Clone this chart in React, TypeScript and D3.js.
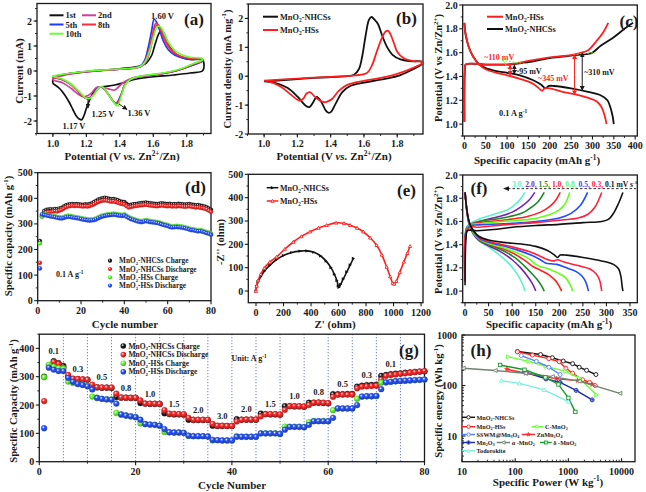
import React from 'react';
import * as d3 from 'd3';

type P = [number, number];

/* ====================== DATA ====================== */

// (a) CV curves, MnO2-NHCSs, cycles 1/2/5/8/10 : [V vs Zn2+/Zn, current mA]
const cvCycle1: P[] = [[1.0,-0.5],[1.003,-0.27],[1.05,-0.17],[1.1,-0.1],[1.2,-0.03],[1.3,0.03],[1.4,0.09],[1.48,0.15],[1.53,0.22],[1.56,0.33],[1.59,0.62],[1.61,1.05],[1.63,1.45],[1.645,1.61],[1.66,1.55],[1.68,1.25],[1.7,0.95],[1.73,0.7],[1.77,0.54],[1.82,0.46],[1.895,0.44],[1.896,0.02],[1.82,-0.08],[1.72,-0.16],[1.62,-0.22],[1.55,-0.27],[1.48,-0.35],[1.42,-0.47],[1.37,-0.56],[1.32,-0.61],[1.28,-0.64],[1.26,-0.7],[1.24,-0.88],[1.22,-1.15],[1.2,-1.5],[1.185,-1.8],[1.172,-1.95],[1.16,-1.93],[1.14,-1.8],[1.12,-1.55],[1.1,-1.28],[1.07,-0.95],[1.04,-0.7],[1.0,-0.5]];
const cvCycle2: P[] = [[1.0,-0.28],[1.05,-0.2],[1.1,-0.13],[1.2,-0.04],[1.3,0.02],[1.4,0.07],[1.48,0.12],[1.53,0.2],[1.56,0.4],[1.58,0.8],[1.6,1.4],[1.618,1.82],[1.635,1.75],[1.66,1.4],[1.69,1.0],[1.72,0.75],[1.77,0.56],[1.83,0.48],[1.895,0.46],[1.895,0.42],[1.82,0.2],[1.74,0.02],[1.65,-0.1],[1.56,-0.18],[1.48,-0.27],[1.43,-0.42],[1.39,-0.65],[1.37,-0.76],[1.345,-0.74],[1.31,-0.67],[1.28,-0.63],[1.26,-0.66],[1.235,-0.85],[1.21,-0.98],[1.185,-1.03],[1.15,-0.92],[1.11,-0.7],[1.06,-0.48],[1.0,-0.35],[1.0,-0.28]];
const cvCycle5: P[] = [[1.0,-0.22],[1.05,-0.15],[1.1,-0.1],[1.2,-0.02],[1.3,0.03],[1.4,0.07],[1.48,0.11],[1.52,0.18],[1.55,0.45],[1.57,0.95],[1.59,1.6],[1.605,2.07],[1.62,1.95],[1.64,1.6],[1.66,1.2],[1.69,0.85],[1.73,0.63],[1.79,0.5],[1.895,0.44],[1.895,0.4],[1.83,0.22],[1.76,0.05],[1.68,-0.08],[1.6,-0.16],[1.52,-0.23],[1.46,-0.35],[1.43,-0.55],[1.41,-0.9],[1.39,-1.2],[1.38,-1.29],[1.365,-1.25],[1.34,-1.02],[1.31,-0.75],[1.285,-0.64],[1.265,-0.72],[1.24,-0.95],[1.215,-1.08],[1.2,-1.1],[1.18,-1.02],[1.14,-0.75],[1.1,-0.5],[1.05,-0.33],[1.0,-0.25],[1.0,-0.22]];
const cvCycle8: P[] = [[1.0,-0.22],[1.1,-0.1],[1.2,-0.02],[1.3,0.03],[1.4,0.07],[1.48,0.11],[1.52,0.17],[1.55,0.38],[1.575,0.85],[1.595,1.45],[1.615,1.9],[1.63,1.85],[1.65,1.55],[1.67,1.2],[1.7,0.88],[1.74,0.66],[1.8,0.52],[1.895,0.46],[1.895,0.42],[1.83,0.24],[1.76,0.06],[1.68,-0.07],[1.6,-0.15],[1.52,-0.22],[1.46,-0.34],[1.43,-0.55],[1.41,-0.92],[1.395,-1.2],[1.385,-1.3],[1.37,-1.27],[1.345,-1.05],[1.315,-0.77],[1.29,-0.64],[1.27,-0.7],[1.245,-0.93],[1.22,-1.08],[1.205,-1.1],[1.185,-1.04],[1.15,-0.8],[1.1,-0.5],[1.05,-0.33],[1.0,-0.25],[1.0,-0.22]];
const cvCycle10: P[] = [[1.0,-0.2],[1.1,-0.09],[1.2,-0.01],[1.3,0.04],[1.4,0.08],[1.48,0.12],[1.52,0.18],[1.55,0.35],[1.58,0.85],[1.6,1.35],[1.625,1.78],[1.645,1.75],[1.665,1.5],[1.69,1.15],[1.72,0.88],[1.76,0.68],[1.82,0.55],[1.895,0.5],[1.895,0.45],[1.84,0.3],[1.77,0.1],[1.69,-0.04],[1.6,-0.13],[1.52,-0.21],[1.46,-0.35],[1.43,-0.58],[1.41,-0.98],[1.395,-1.3],[1.388,-1.4],[1.375,-1.35],[1.35,-1.12],[1.32,-0.82],[1.292,-0.62],[1.27,-0.7],[1.25,-0.9],[1.225,-1.08],[1.21,-1.12],[1.19,-1.05],[1.15,-0.78],[1.1,-0.48],[1.05,-0.3],[1.0,-0.22],[1.0,-0.2]];
const cvCycleNames = ['1st', '2nd', '5th', '8th', '10th'];

// (b) CV of the two electrodes : [V, mA mg-1]
const cvNHCSs: P[] = [[1.0,-0.18],[1.1,-0.14],[1.2,-0.1],[1.3,-0.06],[1.4,-0.03],[1.5,0.0],[1.54,0.05],[1.57,0.25],[1.59,0.7],[1.61,1.4],[1.63,1.95],[1.645,2.05],[1.665,1.95],[1.685,1.8],[1.71,1.4],[1.74,1.0],[1.77,0.75],[1.82,0.58],[1.88,0.52],[1.95,0.5],[1.95,0.43],[1.88,0.2],[1.8,0.0],[1.7,-0.12],[1.6,-0.22],[1.52,-0.33],[1.47,-0.55],[1.43,-0.95],[1.405,-1.22],[1.39,-1.27],[1.37,-1.18],[1.345,-0.9],[1.316,-0.72],[1.295,-0.9],[1.272,-1.07],[1.25,-1.02],[1.2,-0.7],[1.14,-0.4],[1.07,-0.24],[1.0,-0.18]];
const cvHSs: P[] = [[1.0,-0.15],[1.2,-0.08],[1.4,-0.02],[1.55,0.03],[1.62,0.12],[1.65,0.4],[1.68,0.9],[1.71,1.35],[1.73,1.55],[1.745,1.57],[1.76,1.45],[1.78,1.15],[1.8,0.85],[1.84,0.62],[1.9,0.52],[1.95,0.5],[1.95,0.45],[1.9,0.3],[1.8,0.08],[1.7,-0.06],[1.6,-0.16],[1.5,-0.3],[1.45,-0.5],[1.41,-0.78],[1.38,-0.88],[1.36,-0.9],[1.33,-0.82],[1.3,-0.68],[1.275,-0.55],[1.255,-0.6],[1.235,-0.78],[1.21,-0.84],[1.17,-0.68],[1.11,-0.4],[1.05,-0.22],[1.0,-0.15]];

// (c) GCD at 0.1 A g-1 : [mAh g-1, V]
const gcdHSsDischarge: P[] = [[0,1.85],[3,1.75],[10,1.65],[20,1.57],[35,1.5],[50,1.46],[75,1.43],[100,1.41],[130,1.38],[160,1.34],[175,1.3],[182,1.28],[188,1.3],[200,1.3],[230,1.27],[260,1.25],[290,1.22],[310,1.19],[320,1.15],[326,1.1],[330,1.05],[333,1.0]];
const gcdNHCSsDischarge: P[] = [[0,1.85],[3,1.75],[10,1.65],[20,1.57],[35,1.5],[50,1.47],[75,1.445],[100,1.43],[130,1.41],[160,1.37],[180,1.33],[190,1.3],[198,1.32],[210,1.32],[250,1.3],[290,1.27],[320,1.24],[335,1.2],[342,1.14],[347,1.07],[350,1.0]];
const gcdHSsCharge: P[] = [[0,1.02],[1,1.45],[3,1.5],[50,1.5],[100,1.5],[120,1.51],[150,1.53],[200,1.56],[250,1.58],[275,1.6],[290,1.62],[310,1.7],[325,1.77],[337,1.85]];
const gcdNHCSsCharge: P[] = [[0,1.02],[1,1.45],[3,1.5],[50,1.5],[100,1.5],[120,1.505],[150,1.52],[200,1.555],[250,1.575],[290,1.59],[300,1.6],[320,1.66],[350,1.73],[375,1.8],[395,1.85]];

// (d) cycling at 0.1 A g-1 (cycles 1..80), mAh g-1
const cycNHCSsCharge = [233,330,350,355,356,357,356,358,357,360,362,368,372,375,376,377,376,377,376,375,374,376,375,377,380,385,390,395,398,400,402,400,398,396,397,395,392,388,386,385,378,372,374,376,377,378,380,381,382,383,381,380,379,378,377,378,380,379,378,377,378,376,377,376,378,377,376,375,376,377,375,374,372,373,371,370,368,365,360,355];
const cycNHCSsDischarge = [148,335,342,345,346,347,348,350,349,352,355,360,365,368,370,371,370,371,370,369,368,369,368,370,373,377,382,386,389,391,392,391,389,387,388,386,383,380,378,376,370,364,366,368,370,371,372,373,374,375,373,372,371,370,369,370,372,371,370,369,370,368,369,368,370,369,368,367,368,369,367,366,364,365,363,362,360,357,352,347];
const cycHSsCharge = [224,328,338,336,334,332,333,330,328,326,325,327,330,332,331,329,328,326,325,323,321,320,318,317,318,319,322,326,330,333,335,337,338,339,340,339,337,336,335,337,332,327,323,320,317,314,312,311,313,315,313,311,310,309,308,306,303,300,298,296,292,290,291,292,291,290,289,287,285,282,280,279,277,275,276,274,271,268,266,262];
const cycHSsDischarge = [126,337,335,333,331,329,328,326,324,322,321,323,326,328,327,325,324,322,321,319,317,316,314,313,314,315,318,322,326,329,331,333,334,335,336,335,333,332,331,333,328,323,319,316,313,310,308,307,309,311,309,307,306,305,304,302,299,296,294,292,288,286,287,288,287,286,285,283,281,278,276,275,273,271,272,270,267,264,262,258];
const cycLegend = ['MnO2-NHCSs Charge', 'MnO2-NHCSs Discharge', 'MnO2-HSs Charge', 'MnO2-HSs Discharge'];

// (e) Nyquist : [Z' ohm, -Z'' ohm]
const eisNHCSs: P[] = [[0,0],[5,20],[15,40],[35,62],[60,85],[100,110],[150,135],[200,152],[260,165],[320,171],[370,172],[420,166],[470,150],[510,128],[545,100],[570,72],[588,45],[598,22],[603,16],[615,28],[635,52],[660,82],[685,112],[708,140]];
const eisHSs: P[] = [[0,0],[5,22],[15,45],[35,72],[60,98],[100,124],[150,146],[210,180],[271,210],[330,234],[393,254],[455,270],[514,282],[582,292],[640,290],[684,282],[735,270],[780,254],[830,228],[877,196],[915,155],[950,103],[975,62],[994,34],[1005,30],[1020,42],[1045,80],[1075,125],[1100,162],[1120,192]];

// (f) GCD of MnO2-NHCSs at different rates : [mAh g-1, V]
const rateNames = ['3.0', '2.0', '1.5', '1.0', '0.8', '0.5', '0.3', '0.1'];
const rateCharge: P[][] = [
  [[0,1.2],[3,1.55],[10,1.58],[30,1.62],[60,1.66],[90,1.7],[105,1.74],[117,1.79],[127,1.85]],
  [[0,1.17],[3,1.54],[10,1.57],[30,1.6],[70,1.64],[100,1.68],[120,1.73],[135,1.78],[148,1.85]],
  [[0,1.15],[3,1.53],[10,1.57],[30,1.6],[80,1.63],[120,1.67],[140,1.72],[155,1.77],[168,1.85]],
  [[0,1.13],[3,1.52],[10,1.57],[30,1.59],[80,1.61],[130,1.64],[160,1.68],[180,1.73],[192,1.78],[202,1.85]],
  [[0,1.12],[3,1.52],[10,1.57],[30,1.58],[80,1.6],[140,1.62],[180,1.66],[200,1.7],[212,1.75],[222,1.85]],
  [[0,1.1],[2,1.5],[10,1.56],[30,1.57],[80,1.58],[150,1.6],[200,1.63],[225,1.67],[245,1.74],[260,1.85]],
  [[0,1.08],[2,1.5],[10,1.55],[30,1.55],[80,1.57],[150,1.59],[200,1.61],[240,1.63],[260,1.66],[275,1.72],[290,1.85]],
  [[0,1.05],[2,1.45],[5,1.52],[25,1.52],[60,1.53],[100,1.55],[150,1.565],[200,1.575],[250,1.59],[290,1.6],[305,1.62],[315,1.67],[325,1.75],[335,1.85]],
];
const rateDischarge: P[][] = [
  [[0,1.85],[2,1.76],[5,1.65],[10,1.56],[18,1.49],[30,1.43],[50,1.38],[70,1.32],[90,1.25],[105,1.18],[116,1.11],[123,1.05],[127,1.0]],
  [[0,1.85],[2,1.76],[5,1.65],[10,1.56],[18,1.49],[30,1.435],[50,1.39],[75,1.34],[100,1.27],[118,1.2],[132,1.13],[142,1.07],[148,1.02],[150,1.0]],
  [[0,1.85],[2,1.76],[5,1.65],[10,1.56],[18,1.5],[30,1.44],[50,1.4],[80,1.35],[105,1.29],[125,1.22],[142,1.15],[155,1.09],[163,1.04],[168,1.0]],
  [[0,1.85],[2,1.76],[5,1.66],[10,1.57],[18,1.5],[30,1.445],[50,1.405],[80,1.365],[105,1.32],[128,1.26],[145,1.21],[160,1.18],[178,1.14],[192,1.09],[200,1.04],[205,1.0]],
  [[0,1.85],[2,1.76],[5,1.66],[10,1.57],[18,1.5],[30,1.45],[50,1.41],[80,1.375],[110,1.33],[135,1.28],[150,1.23],[160,1.21],[175,1.195],[195,1.16],[212,1.12],[221,1.07],[226,1.03],[228,1.0]],
  [[0,1.85],[2,1.76],[5,1.66],[10,1.57],[18,1.51],[30,1.455],[50,1.42],[80,1.39],[110,1.355],[140,1.31],[160,1.27],[172,1.24],[182,1.235],[195,1.23],[215,1.2],[235,1.17],[248,1.13],[256,1.08],[260,1.03],[262,1.0]],
  [[0,1.85],[2,1.76],[5,1.67],[10,1.58],[18,1.52],[30,1.46],[50,1.43],[80,1.4],[110,1.37],[140,1.335],[165,1.29],[180,1.265],[188,1.26],[196,1.27],[210,1.25],[240,1.22],[265,1.19],[278,1.15],[285,1.1],[288,1.05],[290,1.0]],
  [[0,1.85],[2,1.76],[5,1.67],[10,1.58],[18,1.52],[30,1.47],[50,1.44],[80,1.42],[120,1.405],[150,1.385],[175,1.35],[190,1.31],[196,1.29],[202,1.31],[215,1.31],[250,1.29],[290,1.26],[315,1.23],[326,1.19],[331,1.12],[333,1.05],[335,1.0]],
];

// (g) rate capability, cycles 1..80 (mAh g-1)
const rcNHCSsCharge = [300,340,355,348,338,300,292,291,290,289,265,262,261,261,260,228,226,226,225,225,207,205,204,204,204,171,168,167,167,166,148,147,147,147,147,127,126,126,126,126,150,148,148,148,148,170,168,167,167,166,196,196,195,195,194,208,208,208,207,206,238,238,238,239,239,265,268,270,271,272,303,306,309,311,312,314,315,317,318,319];
const rcNHCSsDischarge = [214,335,352,345,332,306,293,292,291,290,272,263,262,262,262,240,227,226,226,226,216,205,205,205,204,182,170,169,168,168,155,148,148,148,148,133,127,127,126,126,142,148,149,149,149,160,168,168,168,167,183,196,196,196,195,200,208,209,208,207,229,236,237,237,237,259,265,266,267,268,290,303,306,308,310,312,314,316,318,320];
const rcHSsCharge = [298,342,335,330,328,283,278,275,272,268,230,226,222,220,220,172,166,163,160,157,135,133,131,130,127,105,104,103,103,102,91,90,90,90,89,75,76,75,75,75,90,88,88,88,88,100,100,100,100,98,124,123,123,123,122,140,143,143,143,143,182,188,188,188,188,222,230,231,231,232,279,280,282,284,285,286,287,288,289,290];
const rcHSsDischarge = [118,332,325,320,320,296,282,274,271,266,255,225,222,220,219,205,167,163,160,157,148,133,131,130,127,115,104,103,103,102,92,90,90,90,89,77,76,75,75,75,88,88,88,88,88,100,100,100,100,98,113,123,123,123,122,130,143,143,143,143,155,188,188,188,188,200,230,231,231,232,256,280,282,284,285,286,287,288,289,290];
const rcSteps = ['0.1','0.3','0.5','0.8','1.0','1.5','2.0','3.0','2.0','1.5','1.0','0.8','0.5','0.3','0.1'];

// (h) Ragone : [W kg-1, Wh kg-1]
const ragNHCSs: P[] = [[110,470],[300,410],[500,355],[800,305],[1200,270],[1600,230],[2200,200],[3300,165]];
const ragHSs: P[] = [[110,465],[210,400],[430,340],[670,295],[900,220],[1200,175],[1850,130],[2500,115],[3200,100]];
const ragCMnO2: P[] = [[75,370],[180,300],[380,240],[900,190],[1600,140],[3400,65]];
const ragSSWM: P[] = [[130,390],[250,300],[430,230],[700,165]];
const ragZnMn2O4: P[] = [[70,210],[160,175],[600,135],[1500,125],[2800,105]];
const ragMn2O3: P[] = [[150,185],[380,135],[700,115],[1400,80],[2800,52]];
const ragAlpha: P[] = [[10.5,220],[42,198],[155,175],[500,150],[1600,122],[9300,70]];
const ragDelta: P[] = [[52,255],[150,205],[370,145],[650,105],[1000,57],[1350,30]];
const ragTodorokite: P[] = [[55,125],[120,110],[350,82],[1000,48]];

/* ====================== HELPERS ====================== */
const FONT = "'Liberation Serif', 'Times New Roman', serif";
const INK = '#1a1a1a';

type Seg = string | { t: string; sup?: boolean; sub?: boolean; it?: boolean; fill?: string };
function Rich(props: { x: number; y: number; fs: number; segs: Seg[]; anchor?: string; rot?: boolean; fill?: string }) {
  const { x, y, fs, segs, anchor = 'start', rot = false, fill = INK } = props;
  let cur = 0;
  const kids = segs.map((s, i) => {
    const o = typeof s === 'string' ? { t: s } : s;
    const target = o.sup ? -fs * 0.4 : o.sub ? fs * 0.25 : 0;
    const dy = target - cur;
    cur = target;
    return (
      <tspan key={i} dy={dy !== 0 ? dy : undefined} fontSize={o.sup || o.sub ? fs * 0.66 : fs}
        fontStyle={o.it ? 'italic' : undefined} fill={o.fill}>{o.t}</tspan>
    );
  });
  return (
    <text x={x} y={y} fontSize={fs} fontFamily={FONT} fontWeight="bold" fill={fill} textAnchor={anchor as any}
      transform={rot ? `rotate(-90 ${x} ${y})` : undefined}>{kids}</text>
  );
}

const mno2 = (rest: string): Seg[] => ['MnO', { t: '2', sub: true }, rest];

function Frame(props: {
  x: any; y: any; xTicks: number[]; yTicks: number[];
  xFmt?: (v: number) => string; yFmt?: (v: number) => string;
  xMinor?: number[]; yMinor?: number[]; fs?: number; xOff?: number; inward?: boolean;
}) {
  const { x, y, xTicks, yTicks, xFmt = (v) => String(v), yFmt = (v) => String(v), xMinor = [], yMinor = [], fs = 10, xOff = 13, inward = false } = props;
  const [x0, x1] = x.range();
  const [yb, yt] = y.range();
  const s = inward ? -1 : 1;
  return (
    <g>
      {xMinor.map((v, i) => <line key={'xm' + i} x1={x(v)} x2={x(v)} y1={yb} y2={yb + 2 * s} stroke={INK} strokeWidth={0.9} />)}
      {yMinor.map((v, i) => <line key={'ym' + i} x1={x0 - 2 * s} x2={x0} y1={y(v)} y2={y(v)} stroke={INK} strokeWidth={0.9} />)}
      {xTicks.map((v, i) => (
        <g key={'xt' + i}>
          <line x1={x(v)} x2={x(v)} y1={yb} y2={yb + 3.5 * s} stroke={INK} strokeWidth={1.1} />
          <text x={x(v)} y={yb + xOff} textAnchor="middle" fontSize={fs} fontWeight="bold" fontFamily={FONT} fill={INK}>{xFmt(v)}</text>
        </g>
      ))}
      {yTicks.map((v, i) => (
        <g key={'yt' + i}>
          <line x1={x0 - 3.5 * s} x2={x0} y1={y(v)} y2={y(v)} stroke={INK} strokeWidth={1.1} />
          <text x={x0 - 5} y={y(v)} dy="0.35em" textAnchor="end" fontSize={fs} fontWeight="bold" fontFamily={FONT} fill={INK}>{yFmt(v)}</text>
        </g>
      ))}
      <rect x={x0} y={yt} width={x1 - x0} height={yb - yt} fill="none" stroke={INK} strokeWidth={1.3} />
    </g>
  );
}

const range = (a: number, b: number, s: number) => d3.range(a, b + s / 2, s);
const logMinor = (lo: number, hi: number) => {
  const out: number[] = [];
  for (let e = Math.floor(Math.log10(lo)); e <= Math.ceil(Math.log10(hi)); e++)
    for (let m = 2; m < 10; m++) { const v = m * Math.pow(10, e); if (v > lo && v < hi) out.push(v); }
  return out;
};

function mkLine(xs: any, ys: any, curve: any = d3.curveCatmullRom.alpha(0.5)) {
  return d3.line<P>().x((d) => xs(d[0])).y((d) => ys(d[1])).curve(curve);
}

function Marker(props: { kind: string; cx: number; cy: number; color: string; r?: number }) {
  const { kind, cx, cy, color, r = 2.2 } = props;
  const sw = 0.9;
  if (kind === 'circle') return <circle cx={cx} cy={cy} r={r} fill="white" stroke={color} strokeWidth={sw} />;
  if (kind === 'triR') return <path d={`M${cx - r},${cy - r}L${cx + r},${cy}L${cx - r},${cy + r}Z`} fill="white" stroke={color} strokeWidth={sw} />;
  if (kind === 'triL') return <path d={`M${cx + r},${cy - r}L${cx - r},${cy}L${cx + r},${cy + r}Z`} fill="white" stroke={color} strokeWidth={sw} />;
  if (kind === 'triU') return <path d={`M${cx},${cy - r}L${cx + r},${cy + r * 0.8}L${cx - r},${cy + r * 0.8}Z`} fill="white" stroke={color} strokeWidth={sw} />;
  if (kind === 'square') return <rect x={cx - r * 0.85} y={cy - r * 0.85} width={r * 1.7} height={r * 1.7} fill="white" stroke={color} strokeWidth={sw} />;
  if (kind === 'star') {
    const pts = d3.range(10).map((i) => {
      const a = -Math.PI / 2 + (i * Math.PI) / 5;
      const rr = i % 2 === 0 ? r * 1.3 : r * 0.55;
      return `${cx + rr * Math.cos(a)},${cy + rr * Math.sin(a)}`;
    });
    return <polygon points={pts.join(' ')} fill={color} stroke={color} strokeWidth={0.5} />;
  }
  if (kind === 'cross') return (
    <g>
      <circle cx={cx} cy={cy} r={r} fill="white" stroke={color} strokeWidth={sw} />
      <path d={`M${cx - r},${cy}L${cx + r},${cy}M${cx},${cy - r}L${cx},${cy + r}`} stroke={color} strokeWidth={sw} />
    </g>
  );
  return <circle cx={cx} cy={cy} r={r} fill={color} />;
}

/* ====================== APP ====================== */
export default function App() {
  // ---- scales
  const ax = d3.scaleLinear().domain([0.905, 1.945]).range([37, 211]);
  const ay = d3.scaleLinear().domain([-2.5, 2.7]).range([133.5, 3.5]);
  const bx = d3.scaleLinear().domain([0.905, 1.955]).range([248.3, 423]);
  const by = d3.scaleLinear().domain([-2, 2.5]).range([134, 4]);
  const cx = d3.scaleLinear().domain([-4, 405]).range([462.7, 637.3]);
  const cy = d3.scaleLinear().domain([0.9, 2.0]).range([136, 5]);
  const dx = d3.scaleLinear().domain([0, 80]).range([37.7, 211]);
  const dy = d3.scaleLinear().domain([0, 500]).range([300.7, 172.7]);
  const ex = d3.scaleLinear().domain([-56, 1214]).range([248.3, 423]);
  const ey = d3.scaleLinear().domain([-50, 500]).range([302.7, 174.3]);
  const fx = d3.scaleLinear().domain([-5, 365.5]).range([462.7, 637.3]);
  const fy = d3.scaleLinear().domain([0.9, 2.0]).range([302.7, 175]);
  const gx = d3.scaleLinear().domain([0, 80]).range([39.3, 424.5]);
  const gy = d3.scaleLinear().domain([0, 450]).range([461.7, 334.2]);
  const hx = d3.scaleLog().domain([10, 17900]).range([462, 635]);
  const hy = d3.scaleLog().domain([3.1, 1000]).range([461.7, 335]);

  const cvColors = ['#111111', '#d0409a', '#2038ff', '#ff2a3a', '#66ff33'];
  const cvSets = [cvCycle1, cvCycle2, cvCycle5, cvCycle8, cvCycle10];
  const RED = '#ff1f1f';
  const rateColors = ['#5cf0cc', '#7a22b0', '#168a28', '#ff2020', '#66ff1a', '#1f4cff', '#ff2040', '#111111'];
  const cycColors = ['#1a1a1a', '#ff2b2b', '#66ff33', '#2b55ff'];
  const cycSets = [cycNHCSsCharge, cycNHCSsDischarge, cycHSsCharge, cycHSsDischarge];
  const rcSets = [rcNHCSsCharge, rcNHCSsDischarge, rcHSsCharge, rcHSsDischarge];
  const fmt1 = d3.format('.1f');

  const ragSeries = [
    { data: ragNHCSs, color: '#111111', kind: 'circle', name: mno2('-NHCSs') },
    { data: ragHSs, color: '#ff1f1f', kind: 'circle', name: mno2('-HSs') },
    { data: ragCMnO2, color: '#66ff33', kind: 'triR', name: ['C-', ...mno2('')] as Seg[] },
    { data: ragSSWM, color: '#4f7fff', kind: 'circle', name: ['SSWM@Mn', { t: '3', sub: true }, 'O', { t: '4', sub: true }] as Seg[] },
    { data: ragZnMn2O4, color: '#ff2a2a', kind: 'star', name: ['ZnMn', { t: '2', sub: true }, 'O', { t: '4', sub: true }] as Seg[] },
    { data: ragMn2O3, color: '#1a2aa8', kind: 'cross', name: ['Mn', { t: '2', sub: true }, 'O', { t: '3', sub: true }] as Seg[] },
    { data: ragAlpha, color: '#6f806f', kind: 'triL', name: ['α -', ...mno2('')] as Seg[] },
    { data: ragDelta, color: '#169a2a', kind: 'square', name: ['δ -', ...mno2('')] as Seg[] },
    { data: ragTodorokite, color: '#7aeedd', kind: 'triU', name: ['Todorokite'] as Seg[] },
  ];
  // legend layout for (h): [lineX0, lineX1, textX, rowY]
  const ragLegendPos: number[][] = [
    [462, 475, 476.5, 417.3], [462, 475, 476.5, 426.7], [531.7, 543.3, 545, 426.7],
    [462, 475, 476.5, 434.5], [521.7, 535, 536.7, 434.5], [462, 475, 476.5, 442.5],
    [496.7, 510, 511.7, 442.5], [540, 551.7, 553.3, 442.5], [462, 475, 476.5, 450.7],
  ];

  const sphere = (i: number) => `url(#sph${i})`;

  return (
    <svg width={646} height={492} viewBox="0 0 646 492" style={{ position: 'absolute', left: 0, top: 0, background: '#fff' }}
      xmlns="http://www.w3.org/2000/svg">
      <defs>
        <clipPath id="pC"><rect x={462.7} y={5} width={174.6} height={131} /></clipPath>
        <clipPath id="pF"><rect x={462.7} y={175} width={174.6} height={127.7} /></clipPath>
        {cycColors.map((c, i) => (
          <radialGradient key={i} id={`sph${i}`} cx="0.38" cy="0.35" r="0.7">
            <stop offset="0" stopColor="#ffffff" stopOpacity={0.9} />
            <stop offset="0.35" stopColor={c} />
            <stop offset="1" stopColor={d3.color(c)!.darker(1.2).formatHex()} />
          </radialGradient>
        ))}
        <marker id="arK" viewBox="0 0 10 10" refX="9" refY="5" markerWidth="5" markerHeight="5" orient="auto-start-reverse">
          <path d="M0,0L10,5L0,10Z" fill={INK} />
        </marker>
        <marker id="arR" viewBox="0 0 10 10" refX="9" refY="5" markerWidth="5" markerHeight="5" orient="auto-start-reverse">
          <path d="M0,0L10,5L0,10Z" fill={RED} />
        </marker>
      </defs>

      {/* ================= (a) ================= */}
      <g>
        <Frame x={ax} y={ay} xTicks={range(1.0, 1.8, 0.2)} yTicks={[-2, -1, 0, 1, 2]} xFmt={fmt1}
          xMinor={range(0.9, 1.9, 0.1)} yMinor={range(-2.5, 2.5, 0.5)} />
        {cvSets.map((s, i) => (
          <path key={i} d={mkLine(ax, ay)(s)!} fill="none" stroke={cvColors[i]} strokeWidth={1.7} />
        ))}
        {cvCycleNames.map((n, i) => {
          const col = i === 1 || i === 3 ? 1 : 0;
          const row = i === 0 || i === 1 ? 0 : i === 4 ? 2 : 1;
          const lx = col === 0 ? 49.5 : 82;
          const ly = 15.3 + row * 9.2;
          return (
            <g key={n}>
              <line x1={lx} x2={lx + 14} y1={ly} y2={ly} stroke={cvColors[i]} strokeWidth={2} />
              <text x={lx + 16} y={ly + 3} fontSize={8.5} fontWeight="bold" fontFamily={FONT} fill={INK}>{n}</text>
            </g>
          );
        })}
        <text x={162.5} y={18.5} fontSize={8.5} fontWeight="bold" fontFamily={FONT} textAnchor="middle" fill={INK}>1.60 V</text>
        <text x={74} y={128.5} fontSize={8.5} fontWeight="bold" fontFamily={FONT} textAnchor="middle" fill={INK}>1.17 V</text>
        <text x={103} y={116.5} fontSize={8.5} fontWeight="bold" fontFamily={FONT} textAnchor="middle" fill={INK}>1.25 V</text>
        <text x={139} y={115.5} fontSize={8.5} fontWeight="bold" fontFamily={FONT} textAnchor="middle" fill={INK}>1.36 V</text>
        <line x1={88} y1={99} x2={88} y2={108} stroke={INK} strokeWidth={1} markerEnd="url(#arK)" />
        <line x1={119} y1={104} x2={127} y2={109.5} stroke={INK} strokeWidth={1} markerEnd="url(#arK)" />
        <text x={194} y={25} fontSize={17} fontWeight="bold" fontFamily={FONT} textAnchor="middle" fill={INK}>(a)</text>
        <Rich x={122} y={160} fs={11} anchor="middle" segs={['Potential (V ', { t: 'vs.', it: true }, ' Zn', { t: '2+', sup: true }, '/Zn)']} />
        <Rich x={23} y={71} fs={11} anchor="middle" rot segs={['Current (mA)']} />
      </g>

      {/* ================= (b) ================= */}
      <g>
        <Frame x={bx} y={by} xTicks={range(1.0, 1.8, 0.2)} yTicks={[-2, -1, 0, 1, 2]} xFmt={fmt1}
          xMinor={range(0.9, 1.9, 0.1)} yMinor={range(-1.5, 2.5, 0.5)} />
        <path d={mkLine(bx, by)(cvNHCSs)!} fill="none" stroke="#111" strokeWidth={1.8} />
        <path d={mkLine(bx, by)(cvHSs)!} fill="none" stroke={RED} strokeWidth={1.8} />
        <line x1={263} x2={278} y1={16.7} y2={16.7} stroke="#111" strokeWidth={2} />
        <Rich x={280} y={19.5} fs={8.3} segs={mno2('-NHCSs')} />
        <line x1={263} x2={278} y1={30} y2={30} stroke={RED} strokeWidth={2} />
        <Rich x={280} y={32.8} fs={8.3} segs={mno2('-HSs')} />
        <text x={406.5} y={24} fontSize={17} fontWeight="bold" fontFamily={FONT} textAnchor="middle" fill={INK}>(b)</text>
        <Rich x={334} y={160} fs={11} anchor="middle" segs={['Potential (V ', { t: 'vs.', it: true }, ' Zn', { t: '2+', sup: true }, '/Zn)']} />
        <Rich x={230.5} y={69} fs={10.5} anchor="middle" rot segs={['Current density (mA mg', { t: '-1', sup: true }, ')']} />
      </g>

      {/* ================= (c) ================= */}
      <g>
        <Frame x={cx} y={cy} xTicks={range(0, 400, 50)} yTicks={range(1.0, 2.0, 0.2)} yFmt={fmt1}
          xMinor={range(25, 375, 50)} yMinor={range(0.9, 1.9, 0.2)} />
        <g clipPath="url(#pC)">
          <path d={mkLine(cx, cy)(gcdNHCSsDischarge)!} fill="none" stroke="#111" strokeWidth={1.8} />
          <path d={mkLine(cx, cy)(gcdNHCSsCharge)!} fill="none" stroke="#111" strokeWidth={1.8} />
          <path d={mkLine(cx, cy)(gcdHSsDischarge)!} fill="none" stroke={RED} strokeWidth={1.8} />
          <path d={mkLine(cx, cy)(gcdHSsCharge)!} fill="none" stroke={RED} strokeWidth={1.8} />
        </g>
        <line x1={cx(88)} y1={cy(1.535)} x2={cx(150)} y2={cy(1.505)} stroke="#66ff33" strokeWidth={1} strokeDasharray="2,1.5" />
        <line x1={cx(92)} y1={cy(1.53)} x2={cx(103)} y2={cy(1.46)} stroke="#66ff33" strokeWidth={1} strokeDasharray="2,1.5" />
        <line x1={cx(255)} y1={cy(1.585)} x2={cx(305)} y2={cy(1.6)} stroke="#66ff33" strokeWidth={1} strokeDasharray="2,1.5" />
        <line x1={cx(107)} y1={cy(1.41)} x2={cx(107)} y2={cy(1.497)} stroke={RED} strokeWidth={1} markerStart="url(#arR)" markerEnd="url(#arR)" />
        <line x1={cx(117)} y1={cy(1.42)} x2={cx(117)} y2={cy(1.497)} stroke={INK} strokeWidth={1} markerStart="url(#arK)" markerEnd="url(#arK)" />
        <line x1={cx(258)} y1={cy(1.245)} x2={cx(258)} y2={cy(1.585)} stroke={RED} strokeWidth={1} markerStart="url(#arR)" markerEnd="url(#arR)" />
        <line x1={cx(276)} y1={cy(1.282)} x2={cx(276)} y2={cy(1.597)} stroke={INK} strokeWidth={1} markerStart="url(#arK)" markerEnd="url(#arK)" />
        <text x={484} y={60} fontSize={8} fontWeight="bold" fontFamily={FONT} fill={RED}>~110 mV</text>
        <text x={515} y={73.5} fontSize={8} fontWeight="bold" fontFamily={FONT} fill={INK}>~95 mV</text>
        <text x={538} y={80.5} fontSize={8} fontWeight="bold" fontFamily={FONT} fill={RED}>~345 mV</text>
        <text x={584} y={75} fontSize={8} fontWeight="bold" fontFamily={FONT} fill={INK}>~310 mV</text>
        <Rich x={499} y={116} fs={8.3} segs={['0.1 A g', { t: '-1', sup: true }]} />
        <line x1={487} x2={503} y1={16.7} y2={16.7} stroke={RED} strokeWidth={2} />
        <Rich x={505} y={19.5} fs={8.3} segs={mno2('-HSs')} />
        <line x1={487} x2={503} y1={29} y2={29} stroke="#111" strokeWidth={2} />
        <Rich x={505} y={31.8} fs={8.3} segs={mno2('-NHCSs')} />
        <text x={629} y={27} fontSize={17} fontWeight="bold" fontFamily={FONT} textAnchor="middle" fill={INK}>(c)</text>
        <Rich x={537} y={164} fs={11} anchor="middle" segs={['Specific capacity (mAh g', { t: '-1', sup: true }, ')']} />
        <Rich x={442} y={68} fs={10.5} anchor="middle" rot segs={['Potential (V vs Zn/Zn', { t: '2+', sup: true }, ')']} />
      </g>

      {/* ================= (d) ================= */}
      <g>
        <Frame x={dx} y={dy} xTicks={[0, 20, 40, 60, 80]} yTicks={range(0, 500, 100)}
          xMinor={[10, 30, 50, 70]} yMinor={range(50, 450, 100)} />
        {cycSets.map((s, si) => (
          <g key={si}>
            {s.map((v, i) => <circle key={i} cx={dx(i + 1)} cy={dy(v)} r={2.1} fill={sphere(si)} stroke={d3.color(cycColors[si])!.darker(0.8).formatHex()} strokeWidth={0.3} />)}
          </g>
        ))}
        {cycLegend.map((n, i) => (
          <g key={n}>
            <circle cx={110} cy={260.7 + i * 8.3} r={2.1} fill={sphere(i)} />
            <Rich x={119} y={263.3 + i * 8.3} fs={7.3} segs={['MnO', { t: '2', sub: true }, n.slice(4)]} />
          </g>
        ))}
        <Rich x={56} y={277} fs={8} segs={['0.1 A g', { t: '-1', sup: true }]} />
        <text x={195.5} y={193} fontSize={17} fontWeight="bold" fontFamily={FONT} textAnchor="middle" fill={INK}>(d)</text>
        <Rich x={125} y={328} fs={11} anchor="middle" segs={['Cycle number']} />
        <Rich x={12} y={236} fs={10.5} anchor="middle" rot segs={['Specific capacity (mAh g', { t: '-1', sup: true }, ')']} />
      </g>

      {/* ================= (e) ================= */}
      <g>
        <Frame x={ex} y={ey} xTicks={range(0, 1200, 200)} yTicks={range(0, 500, 100)}
          xMinor={range(100, 1100, 200)} yMinor={range(50, 450, 100)} />
        <path d={mkLine(ex, ey)(eisNHCSs)!} fill="none" stroke="#111" strokeWidth={1.6} />
        {eisNHCSs.map((p, i) => <path key={i} d={`M${ex(p[0]) - 1.6},${ey(p[1]) - 1.6}L${ex(p[0]) + 1.8},${ey(p[1])}L${ex(p[0]) - 1.6},${ey(p[1]) + 1.6}Z`} fill="#111" />)}
        <path d={mkLine(ex, ey)(eisHSs)!} fill="none" stroke={RED} strokeWidth={1.6} />
        {eisHSs.map((p, i) => <Marker key={i} kind="triU" cx={ex(p[0])} cy={ey(p[1])} color={RED} r={1.6} />)}
        <line x1={266.7} x2={278.3} y1={187.7} y2={187.7} stroke="#111" strokeWidth={1.5} />
        <path d="M270.8,186L274.4,187.7L270.8,189.4Z" fill="#111" />
        <Rich x={280} y={190.5} fs={8} segs={mno2('-NHCSs')} />
        <line x1={266.7} x2={278.3} y1={201} y2={201} stroke={RED} strokeWidth={1.5} />
        <Marker kind="triU" cx={272.5} cy={201} color={RED} r={1.6} />
        <Rich x={280} y={203.8} fs={8} segs={mno2('-HSs')} />
        <text x={406.5} y={196} fontSize={17} fontWeight="bold" fontFamily={FONT} textAnchor="middle" fill={INK}>(e)</text>
        <Rich x={335} y={328} fs={11} anchor="middle" segs={["Z' (ohm)"]} />
        <Rich x={224} y={242} fs={10.5} anchor="middle" rot segs={["-Z'' (ohm)"]} />
      </g>

      {/* ================= (f) ================= */}
      <g>
        <Frame x={fx} y={fy} xTicks={range(0, 350, 50)} yTicks={range(1.0, 2.0, 0.2)} yFmt={fmt1}
          xMinor={range(25, 325, 50)} yMinor={range(0.9, 1.9, 0.2)} />
        <g clipPath="url(#pF)">
          {rateNames.map((n, i) => (
            <g key={n + i}>
              <path d={mkLine(fx, fy)(rateDischarge[i])!} fill="none" stroke={rateColors[i]} strokeWidth={1.6} />
              <path d={mkLine(fx, fy)(rateCharge[i])!} fill="none" stroke={rateColors[i]} strokeWidth={1.6} />
            </g>
          ))}
        </g>
        <line x1={508} x2={636} y1={188.6} y2={188.6} stroke={INK} strokeWidth={0.9} strokeDasharray="2.5,2" />
        <path d="M503,188.6L509,186.3L509,190.9Z" fill={INK} />
        <text x={512} y={186.6} fontSize={7.6} fontWeight="bold" fontFamily={FONT}>
          {rateNames.map((n, i) => (
            <tspan key={i} fill={rateColors[i]}>{n}{i < rateNames.length - 1 ? ', ' : ''}</tspan>
          ))}
          <tspan fill={INK}> mV s</tspan>
          <tspan fill={INK} dy={-3} fontSize={5}>-1</tspan>
        </text>
        <text x={479} y={194} fontSize={17} fontWeight="bold" fontFamily={FONT} textAnchor="middle" fill={INK}>(f)</text>
        <Rich x={549} y={328} fs={11} anchor="middle" segs={['Specific capacity (mAh g', { t: '-1', sup: true }, ')']} />
        <Rich x={442} y={240} fs={10.5} anchor="middle" rot segs={['Potential (V vs Zn/Zn', { t: '2+', sup: true }, ')']} />
      </g>

      {/* ================= (g) ================= */}
      <g>
        {range(5, 75, 5).map((c) => (
          <line key={c} x1={gx(c)} x2={gx(c)} y1={gy(450)} y2={gy(0)} stroke="#3050c0" strokeWidth={0.9} strokeDasharray="1,2" />
        ))}
        <Frame x={gx} y={gy} xTicks={[0, 20, 40, 60, 80]} yTicks={range(0, 400, 100)}
          xMinor={[10, 30, 50, 70]} yMinor={range(50, 450, 100)} />
        {rcSets.map((s, si) => (
          <g key={si}>
            {s.map((v, i) => <circle key={i} cx={gx(i + 1)} cy={gy(v)} r={2.9} fill={sphere(si)} stroke={d3.color(cycColors[si])!.darker(0.8).formatHex()} strokeWidth={0.4} />)}
          </g>
        ))}
        {cycLegend.map((n, i) => (
          <g key={n}>
            <circle cx={123.3} cy={346 + i * 8.6} r={2.8} fill={sphere(i)} />
            <Rich x={128.5} y={348.6 + i * 8.6} fs={7.5} segs={['MnO', { t: '2', sub: true }, n.slice(4)]} />
          </g>
        ))}
        {rcSteps.map((t, i) => {
          const c = i * 5 + 3;
          const top = Math.max(rcNHCSsCharge[i * 5 + 2], rcNHCSsDischarge[i * 5 + 2]);
          return <text key={i} x={gx(c)} y={gy(top) - 7} fontSize={8.5} fontWeight="bold" fontFamily={FONT} textAnchor="middle" fill={INK}>{t}</text>;
        })}
        <Rich x={231.5} y={361} fs={8} segs={['Unit: A g', { t: '-1', sup: true }]} />
        <text x={409} y={356} fontSize={17} fontWeight="bold" fontFamily={FONT} textAnchor="middle" fill={INK}>(g)</text>
        <Rich x={232} y={489} fs={11} anchor="middle" segs={['Cycle Number']} />
        <Rich x={17} y={401} fs={10.5} anchor="middle" rot segs={['Specific Capacity (mAh g', { t: '-1', sup: true }, ')']} />
      </g>

      {/* ================= (h) ================= */}
      <g>
        <Frame x={hx} y={hy} xTicks={[10, 100, 1000, 10000]} yTicks={[10, 100, 1000]} inward
          xMinor={logMinor(10, 17900)} yMinor={logMinor(3.1, 1000)} />
        {ragSeries.map((s, si) => (
          <g key={si}>
            <path d={mkLine(hx, hy, d3.curveLinear)(s.data)!} fill="none" stroke={s.color} strokeWidth={1.4} />
            {s.data.map((p, i) => <Marker key={i} kind={s.kind} cx={hx(p[0])} cy={hy(p[1])} color={s.color} r={2} />)}
          </g>
        ))}
        {ragSeries.map((s, si) => {
          const [l0, l1, tx, ty] = ragLegendPos[si];
          return (
            <g key={'lg' + si}>
              <line x1={l0} x2={l1} y1={ty} y2={ty} stroke={s.color} strokeWidth={1.4} />
              <Marker kind={s.kind} cx={(l0 + l1) / 2} cy={ty} color={s.color} r={1.7} />
              <Rich x={tx} y={ty + 2.2} fs={6.2} segs={s.name} />
            </g>
          );
        })}
        <text x={481} y={356} fontSize={17} fontWeight="bold" fontFamily={FONT} textAnchor="middle" fill={INK}>(h)</text>
        <Rich x={548} y={485.5} fs={11} anchor="middle" segs={['Specific Power (W kg', { t: '-1', sup: true }, ')']} />
        <Rich x={442} y={401} fs={10.5} anchor="middle" rot segs={['Specific energy (Wh kg', { t: '-1', sup: true }, ')']} />
      </g>
    </svg>
  );
}
